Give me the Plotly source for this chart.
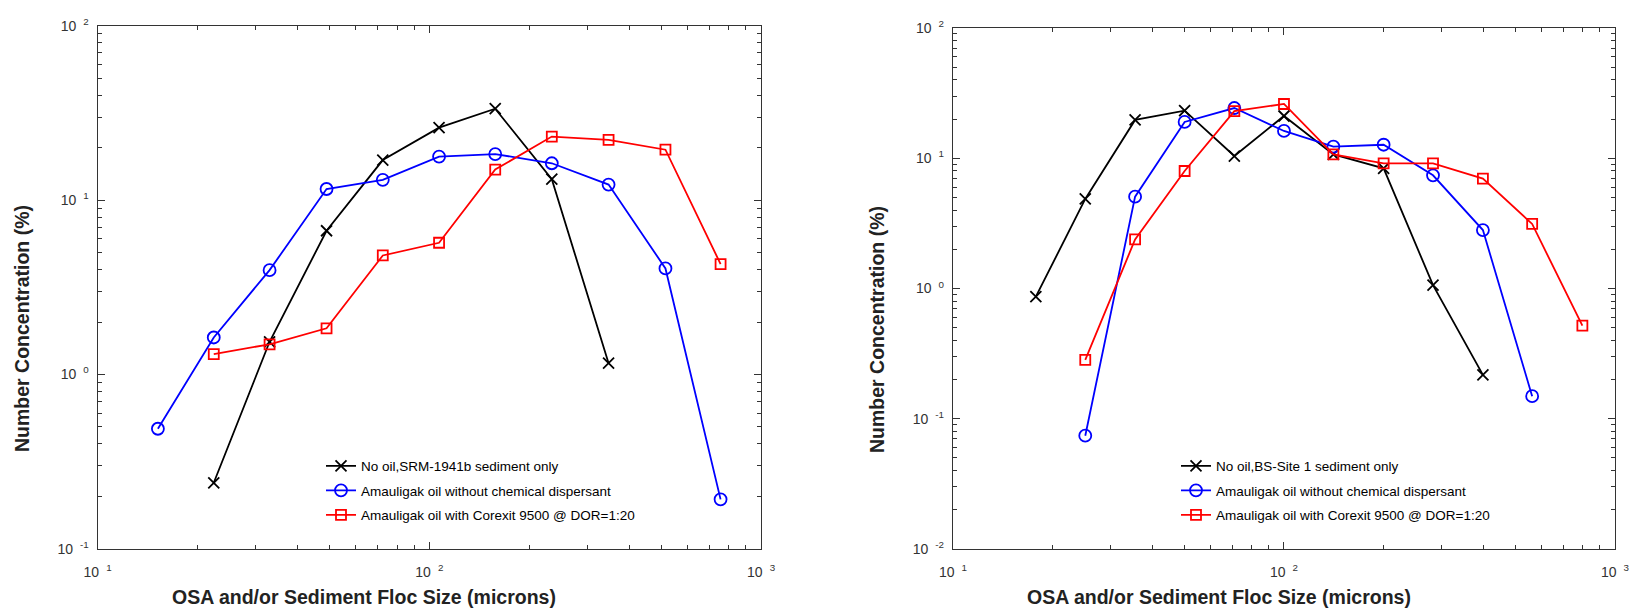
import plotly.graph_objects as go

# ---- Left panel: SRM-1941b sediment ----
l_noil_x = [22.4, 33.0, 49.0, 72.4, 107, 158, 234, 347]
l_noil_y = [0.239, 1.54, 6.68, 17.0, 26.1, 33.5, 13.2, 1.16]
l_nodisp_x = [15.2, 22.4, 33.0, 49.0, 72.4, 107, 158, 234, 347, 515, 755]
l_nodisp_y = [0.488, 1.63, 3.97, 11.6, 13.1, 17.8, 18.4, 16.3, 12.3, 4.06, 0.192]
l_corexit_x = [22.4, 33.0, 49.0, 72.4, 107, 158, 234, 347, 515, 755]
l_corexit_y = [1.31, 1.49, 1.84, 4.82, 5.70, 15.0, 23.2, 22.2, 19.5, 4.30]

# ---- Right panel: BS-Site 1 sediment ----
r_noil_x = [17.8, 25.1, 35.5, 50.1, 70.8, 100, 141, 200, 282, 399]
r_noil_y = [0.865, 4.87, 19.7, 23.2, 10.4, 21.1, 10.7, 8.37, 1.06, 0.217]
r_nodisp_x = [25.1, 35.5, 50.1, 70.8, 100, 141, 200, 282, 399, 562]
r_nodisp_y = [0.0741, 5.07, 19.0, 24.3, 16.2, 12.3, 12.7, 7.40, 2.81, 0.149]
r_corexit_x = [25.1, 35.5, 50.1, 70.8, 100, 141, 200, 282, 399, 562, 797]
r_corexit_y = [0.283, 2.38, 7.98, 23.0, 26.1, 10.7, 9.15, 9.15, 6.97, 3.13, 0.518]

left_names = ["No oil,SRM-1941b sediment only",
              "Amauligak oil without chemical dispersant",
              "Amauligak oil with Corexit 9500 @ DOR=1:20"]
right_names = ["No oil,BS-Site 1 sediment only",
               "Amauligak oil without chemical dispersant",
               "Amauligak oil with Corexit 9500 @ DOR=1:20"]

GAP = "\u2002"  # spacing between the base and its exponent
x_tick_vals = [10, 100, 1000]
x_tick_text = [f"10{GAP}<sup>1</sup>", f"10{GAP}<sup>2</sup>", f"10{GAP}<sup>3</sup>"]
yl_tick_vals = [0.1, 1, 10, 100]
yl_tick_text = [f"10{GAP}<sup>-1</sup>", f"10{GAP}<sup>0</sup>",
                f"10{GAP}<sup>1</sup>", f"10{GAP}<sup>2</sup>"]
yr_tick_vals = [0.01, 0.1, 1, 10, 100]
yr_tick_text = [f"10{GAP}<sup>-2</sup>", f"10{GAP}<sup>-1</sup>", f"10{GAP}<sup>0</sup>",
                f"10{GAP}<sup>1</sup>", f"10{GAP}<sup>2</sup>"]

styles = [
    dict(color="black", symbol="x-thin-open", size=11),
    dict(color="blue", symbol="circle-open", size=12),
    dict(color="red", symbol="square-open", size=10),
]

fig = go.Figure()

def add_series(xs, ys, name, st, xa, ya, legend, group):
    fig.add_trace(go.Scatter(
        x=xs, y=ys, name=name, mode="lines+markers",
        xaxis=xa, yaxis=ya, legend=legend, legendgroup=group,
        line=dict(color=st["color"], width=1.8),
        marker=dict(symbol=st["symbol"], size=st["size"], color=st["color"],
                    line=dict(color=st["color"], width=1.8)),
    ))

left_data = [(l_noil_x, l_noil_y), (l_nodisp_x, l_nodisp_y), (l_corexit_x, l_corexit_y)]
right_data = [(r_noil_x, r_noil_y), (r_nodisp_x, r_nodisp_y), (r_corexit_x, r_corexit_y)]
for i, ((xs, ys), nm) in enumerate(zip(left_data, left_names)):
    add_series(xs, ys, nm, styles[i], "x", "y", "legend", f"L{i}")
for i, ((xs, ys), nm) in enumerate(zip(right_data, right_names)):
    add_series(xs, ys, nm, styles[i], "x2", "y2", "legend2", f"R{i}")

def minor_vals(lo, hi):
    return [m * 10.0 ** e for e in range(lo, hi) for m in range(2, 10)]

tick_font = dict(family="Liberation Sans, Arial, sans-serif", size=14, color="#333333")
axis_common = dict(
    type="log", showgrid=False, zeroline=False, automargin=False,
    showline=True, linecolor="#333333", linewidth=1.2, mirror="allticks",
    ticks="inside", ticklen=7, tickwidth=1, tickcolor="#333333",
    tickfont=tick_font, tickmode="array", ticklabeloverflow="allow",
)

fig.update_layout(
    width=1629, height=610,
    margin=dict(l=0, r=0, t=0, b=0, autoexpand=False),
    paper_bgcolor="white", plot_bgcolor="white",
    font=dict(family="Liberation Sans, Arial, sans-serif", color="black"),
    xaxis=dict(**axis_common, domain=[0.0599, 0.4672], range=[1, 3], anchor="y",
               tickvals=x_tick_vals, ticktext=x_tick_text, ticklabelstandoff=10,
               minor=dict(tickmode="array", tickvals=minor_vals(1, 3), ticks="inside",
                          ticklen=4, tickcolor="#333333")),
    yaxis=dict(**axis_common, domain=[0.1005, 0.9574], range=[-1, 2], anchor="x",
               tickvals=yl_tick_vals, ticktext=yl_tick_text, ticklabelstandoff=5,
               minor=dict(tickmode="array", tickvals=minor_vals(-1, 2), ticks="inside",
                          ticklen=4, tickcolor="#333333")),
    xaxis2=dict(**axis_common, domain=[0.585, 0.9914], range=[1, 3], anchor="y2",
                tickvals=x_tick_vals, ticktext=x_tick_text, ticklabelstandoff=10,
                minor=dict(tickmode="array", tickvals=minor_vals(1, 3), ticks="inside",
                           ticklen=4, tickcolor="#333333")),
    yaxis2=dict(**axis_common, domain=[0.1, 0.9541], range=[-2, 2], anchor="x2",
                tickvals=yr_tick_vals, ticktext=yr_tick_text, ticklabelstandoff=5,
                minor=dict(tickmode="array", tickvals=minor_vals(-2, 2), ticks="inside",
                           ticklen=4, tickcolor="#333333")),
    legend=dict(x=321 / 1629, y=1 - 450.5 / 610, xanchor="left", yanchor="top",
                bgcolor="rgba(0,0,0,0)", tracegroupgap=4,
                font=dict(size=13.5, color="black"), traceorder="grouped"),
    legend2=dict(x=1176 / 1629, y=1 - 450.5 / 610, xanchor="left", yanchor="top",
                 bgcolor="rgba(0,0,0,0)", tracegroupgap=4,
                 font=dict(size=13.5, color="black"), traceorder="grouped"),
)

title_font = dict(family="Liberation Sans, Arial, sans-serif", size=19.5, color="#222222")
x_title = "<b>OSA and/or Sediment Floc Size (microns)</b>"
y_title = "<b>Number Concentration (%)</b>"
fig.add_annotation(text=x_title, x=364 / 1629, y=1 - 597 / 610, xref="paper", yref="paper",
                   showarrow=False, font=title_font, xanchor="center", yanchor="middle")
fig.add_annotation(text=x_title, x=1219 / 1629, y=1 - 597 / 610, xref="paper", yref="paper",
                   showarrow=False, font=title_font, xanchor="center", yanchor="middle")
fig.add_annotation(text=y_title, x=22 / 1629, y=1 - 329 / 610, xref="paper", yref="paper",
                   showarrow=False, font=title_font, textangle=-90,
                   xanchor="center", yanchor="middle")
fig.add_annotation(text=y_title, x=877 / 1629, y=1 - 329 / 610, xref="paper", yref="paper",
                   showarrow=False, font=title_font, textangle=-90,
                   xanchor="center", yanchor="middle")

fig.write_html("out.html")
